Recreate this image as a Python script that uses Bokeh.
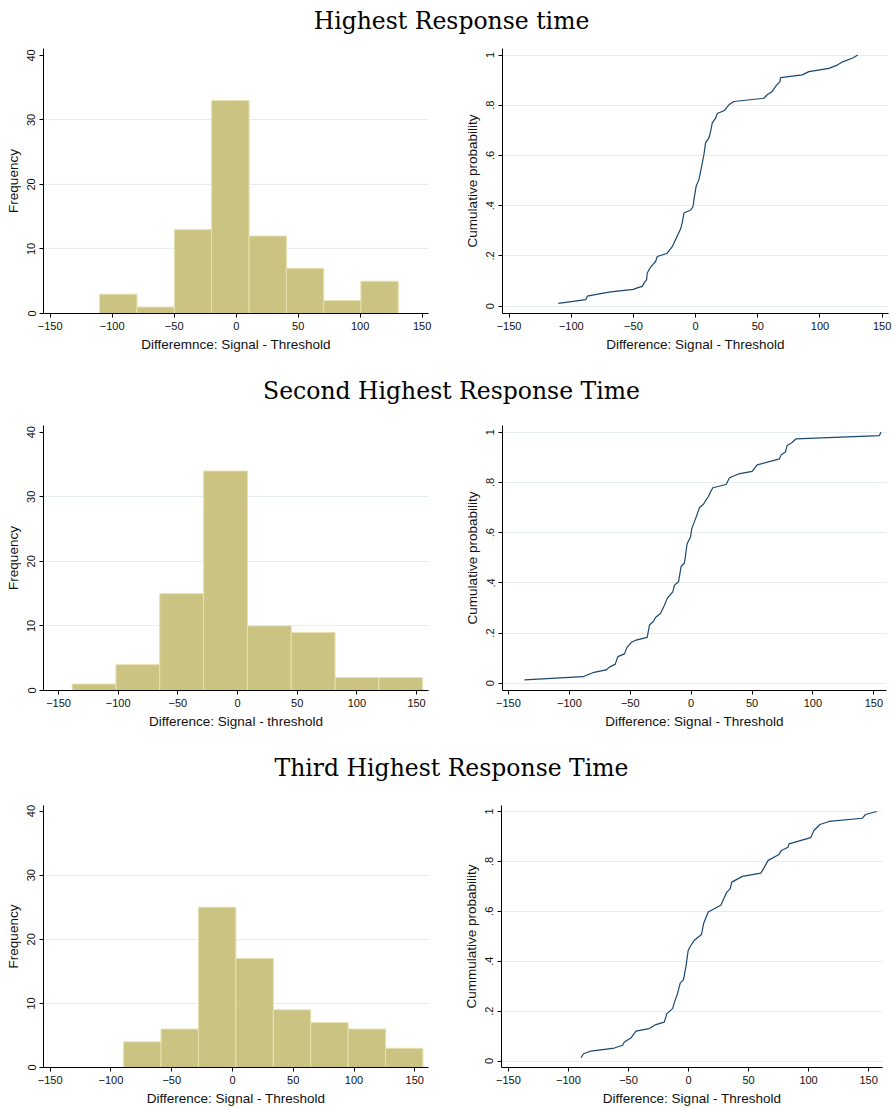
from bokeh.plotting import figure
from bokeh.layouts import column, row
from bokeh.models import FixedTicker, Range1d
from bokeh.embed import file_html
from bokeh.resources import INLINE
from bokeh.core.properties import value

# ---------------- data ----------------
titles = ["Highest Response time", "Second Highest Response Time", "Third Highest Response Time"]

# histograms: bin edges and frequencies
hist1_edges = [-110.2, -80.0, -49.9, -19.8, 10.4, 40.5, 70.6, 100.6, 130.7]
hist1_counts = [3, 1, 13, 33, 12, 7, 2, 5]
hist2_edges = [-138.6, -101.9, -65.2, -28.4, 8.3, 45.0, 81.7, 118.4, 155.1]
hist2_counts = [1, 4, 15, 34, 10, 9, 2, 2]
hist3_edges = [-89.6, -58.8, -28.0, 2.8, 33.6, 64.4, 95.2, 126.0, 156.7]
hist3_counts = [4, 6, 25, 17, 9, 7, 6, 3]

hist_xlabels = ["Differemnce: Signal - Threshold", "Difference: Signal - threshold",
                "Difference: Signal - Threshold"]

# empirical cumulative distributions
cdf1_x = [-110.4, -88.4, -87.1, -76.4, -68.3, -50.1, -46.9, -42.9, -41.5, -39.4, -38.9,
          -36.2, -32.2, -30.8, -22.8, -18.8, -14.7, -12.1, -10.7, -9.4, -4.0, -2.1, -1.3,
          0.5, 2.7, 4.6, 6.7, 8.0, 10.7, 12.1, 13.4, 16.1, 17.4, 22.8, 26.8, 30.8, 54.9,
          57.6, 61.6, 64.3, 67.8, 68.3, 85.7, 91.1, 107.2, 113.9, 118.7, 125.9, 130.5]
cdf1_y = [0.011, 0.026, 0.040, 0.050, 0.057, 0.067, 0.073, 0.079, 0.092, 0.106, 0.132,
          0.156, 0.178, 0.198, 0.211, 0.237, 0.281, 0.307, 0.334, 0.371, 0.383, 0.396, 0.426,
          0.479, 0.505, 0.551, 0.604, 0.650, 0.670, 0.697, 0.730, 0.749, 0.767, 0.778, 0.802,
          0.815, 0.828, 0.842, 0.855, 0.875, 0.894, 0.910, 0.921, 0.934, 0.947, 0.960, 0.974,
          0.987, 1.0]

cdf2_x = [-136.8, -88.9, -80.7, -69.8, -67.1, -62.4, -60.2, -54.7, -52.8, -49.3, -45.2,
          -36.1, -34.2, -30.7, -29.3, -25.2, -21.9, -19.7, -15.1, -13.7, -10.4, -8.2, -5.5,
          -3.3, -0.5, 0.5, 4.1, 6.8, 10.1, 12.3, 14.2, 15.9, 17.8, 28.7, 31.5, 38.9, 50.1,
          54.2, 72.5, 73.9, 77.4, 78.8, 82.6, 86.2, 154.6, 155.8]
cdf2_y = [0.013, 0.026, 0.042, 0.053, 0.064, 0.075, 0.106, 0.117, 0.142, 0.162, 0.172,
          0.183, 0.232, 0.248, 0.262, 0.278, 0.311, 0.338, 0.364, 0.391, 0.404, 0.466, 0.479,
          0.556, 0.583, 0.616, 0.662, 0.699, 0.713, 0.731, 0.744, 0.762, 0.779, 0.792, 0.819,
          0.834, 0.844, 0.870, 0.894, 0.910, 0.921, 0.947, 0.958, 0.974, 0.987, 1.0]

cdf3_x = [-89.6, -87.4, -81.3, -61.8, -54.9, -53.5, -48.0, -43.8, -32.7, -27.2, -20.2,
          -18.0, -13.3, -11.4, -9.2, -6.9, -4.2, -2.2, -0.3, 1.9, 4.7, 10.8, 12.5, 16.4,
          26.9, 31.9, 34.7, 36.0, 44.9, 60.2, 62.9, 66.3, 75.4, 77.4, 82.9, 83.7, 101.8,
          104.5, 109.5, 117.0, 144.8, 147.5, 156.7]
cdf3_y = [0.013, 0.029, 0.040, 0.052, 0.063, 0.076, 0.092, 0.120, 0.130, 0.146, 0.156,
          0.190, 0.210, 0.240, 0.270, 0.312, 0.326, 0.377, 0.443, 0.463, 0.483, 0.507, 0.550,
          0.597, 0.624, 0.677, 0.690, 0.717, 0.740, 0.753, 0.774, 0.804, 0.828, 0.844, 0.857,
          0.870, 0.895, 0.924, 0.948, 0.960, 0.973, 0.988, 1.0]

cdf_ylabels = ["Cumulative probability", "Cumulative probability", "Cummulative probability"]
cdf_xlabel = "Difference: Signal - Threshold"

x_ticks = [-150, -100, -50, 0, 50, 100, 150]
freq_ticks = [0, 10, 20, 30, 40]
prob_ticks = [0, 0.2, 0.4, 0.6, 0.8, 1]
prob_tick_labels = ["0", ".2", ".4", ".6", ".8", "1"]

# ---------------- styling ----------------
BAR_FILL = "#cbc382"
BAR_LINE = "#e6e0b2"
LINE_COL = "#1a476f"
GRID_COL = "#e4eef0"
SANS = "Liberation Sans"
SERIF = "DejaVu Serif"


def style_axes(p, xlabel, ylabel, yticks, ylabels, grid_ticks):
    p.outline_line_color = None
    p.background_fill_color = "white"
    p.border_fill_color = "white"
    p.xgrid.visible = False
    p.ygrid.ticker = FixedTicker(ticks=grid_ticks)
    p.ygrid.grid_line_color = GRID_COL
    p.ygrid.grid_line_width = 1
    p.xaxis.ticker = FixedTicker(ticks=x_ticks)
    p.yaxis.ticker = FixedTicker(ticks=yticks)
    p.yaxis.major_label_overrides = {t: lab for t, lab in zip(yticks, ylabels)}
    p.yaxis.major_label_orientation = "vertical"
    p.xaxis.axis_label = xlabel
    p.yaxis.axis_label = ylabel
    for ax in (p.xaxis[0], p.yaxis[0]):
        ax.axis_line_color = "black"
        ax.axis_line_width = 1
        ax.major_tick_line_color = "black"
        ax.minor_tick_line_color = None
        ax.major_tick_in = 0
        ax.major_tick_out = 4
        ax.major_label_text_font = SANS
        ax.major_label_text_font_size = "11px"
        ax.major_label_text_color = "#111111"
        ax.major_label_standoff = 4
        ax.axis_label_text_font = SANS
        ax.axis_label_text_font_size = "13.5px"
        ax.axis_label_text_font_style = "normal"
        ax.axis_label_text_color = "#111111"
        ax.axis_label_standoff = 4


def make_fig(w, h, xr, yr, bl, br, bt, bb):
    p = figure(width=w, height=h, x_range=Range1d(*xr), y_range=Range1d(*yr),
               output_backend="svg", toolbar_location=None,
               min_border_left=bl, min_border_right=br,
               min_border_top=bt, min_border_bottom=bb)
    return p


def hist_fig(edges, counts, xlabel, h, xr, yr, bt, bb):
    p = make_fig(446, h, xr, yr, 43, 18, bt, bb)
    p.quad(left=edges[:-1], right=edges[1:], bottom=0, top=counts,
           fill_color=BAR_FILL, line_color=BAR_LINE, line_width=1)
    style_axes(p, xlabel, "Frequency", freq_ticks, [str(t) for t in freq_ticks], [10, 20, 30])
    return p


def cdf_fig(xs, ys, ylabel, h, xr, yr, bl, br, bt, bb):
    p = make_fig(447, h, xr, yr, bl, br, bt, bb)
    p.line(xs, ys, line_color=LINE_COL, line_width=1.2)
    style_axes(p, cdf_xlabel, ylabel, prob_ticks, prob_tick_labels, prob_ticks)
    return p


def title_fig(text, h, baseline):
    p = figure(width=893, height=h, x_range=Range1d(0, 893), y_range=Range1d(0, h),
               output_backend="svg", toolbar_location=None, title=None,
               min_border=0)
    p.axis.visible = False
    p.grid.visible = False
    p.outline_line_color = None
    p.text(x=[451], y=[h - baseline], text=[text], text_font=value(SERIF),
           text_font_size="23.5px", text_align="center", text_baseline="alphabetic",
           text_color="black")
    return p


# row 1
t1 = title_fig(titles[0], 40, 20)
h1 = hist_fig(hist1_edges, hist1_counts, hist_xlabels[0], 325,
              (-155.4, 155.1), (0, 41.08), 8, 52)
c1 = cdf_fig(cdf1_x, cdf1_y, cdf_ylabels[0], 325,
             (-155.3, 155.1), (-0.029, 1.026), 56, 5, 7, 52)

# row 2
t2 = title_fig(titles[1], 45, 25.5)
h2 = hist_fig(hist2_edges, hist2_counts, hist_xlabels[1], 340,
              (-162.6, 160.0), (0, 41.04), 15, 60)
c2 = cdf_fig(cdf2_x, cdf2_y, cdf_ylabels[1], 340,
             (-154.9, 160.4), (-0.029, 1.027), 56, 7, 15, 59)

# row 3
t3 = title_fig(titles[2], 45, 17.5)
h3 = hist_fig(hist3_edges, hist3_counts, hist_xlabels[2], 313,
              (-155.5, 161.3), (0, 40.87), 8, 41)
c3 = cdf_fig(cdf3_x, cdf3_y, cdf_ylabels[2], 313,
             (-155.8, 161.6), (-0.026, 1.024), 55, 11, 10, 41)

layout = column(t1, row(h1, c1), t2, row(h2, c2), t3, row(h3, c3), spacing=0)

open("out.html", "w").write(file_html(layout, INLINE))
